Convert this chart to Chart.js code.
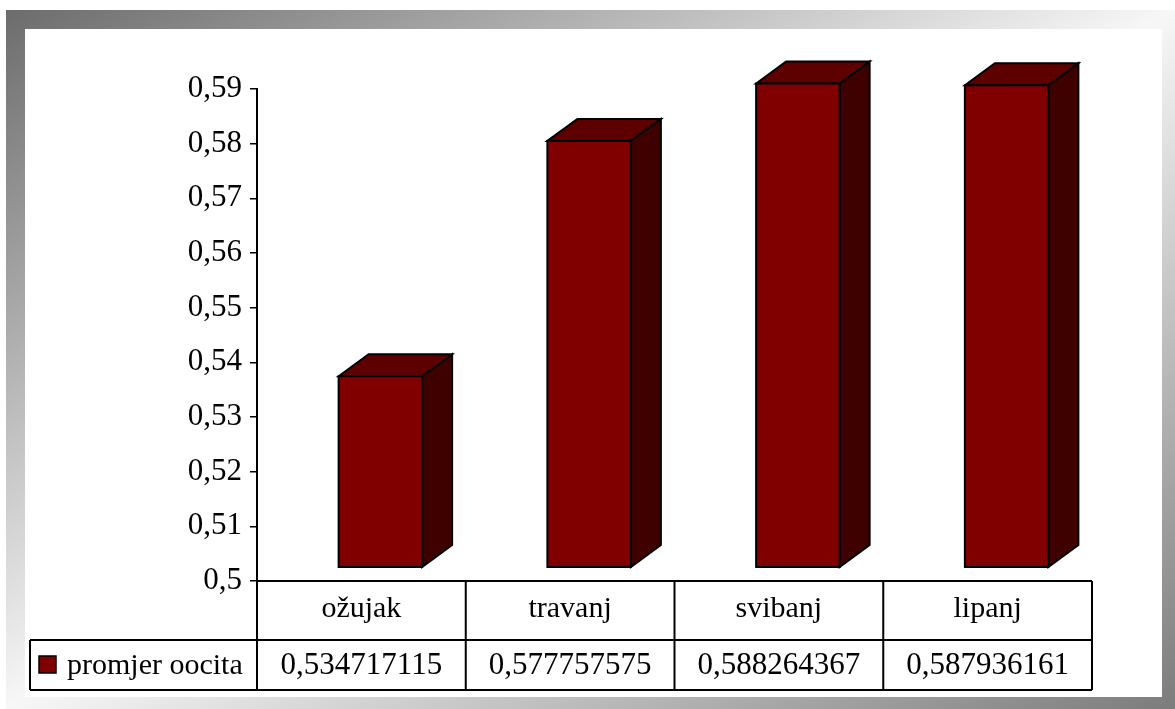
<!DOCTYPE html>
<html>
<head>
<meta charset="utf-8">
<script src="https://cdn.jsdelivr.net/npm/chart.js@4/dist/chart.umd.min.js"></script>
<style>
    body { margin: 0; width: 1175px; height: 709px; overflow: hidden; background: #fff; }
    #frame {
        position: absolute; left: 6px; top: 10px; width: 1169px; height: 699px;
        background: linear-gradient(to bottom right, #6c6c6c 0%, #f7f7f7 50%, #7c7c7c 100%);
    }
    #inner { position: absolute; left: 25px; top: 29px; width: 1137px; height: 668px; background: #fff; }
    #wrap { position: absolute; left: 0; top: 0; width: 1175px; height: 709px; }
</style>
</head>
<body>
<div id="frame"></div>
<div id="inner"></div>
<div id="wrap"><canvas id="chart" width="1175" height="709"></canvas></div>
<script>
const categories = ['ožujak', 'travanj', 'svibanj', 'lipanj'];
const seriesName = 'promjer oocita';
const values = [0.534717115, 0.577757575, 0.588264367, 0.587936161];
const valueLabels = ['0,534717115', '0,577757575', '0,588264367', '0,587936161'];
const yTicks = [0.5, 0.51, 0.52, 0.53, 0.54, 0.55, 0.56, 0.57, 0.58, 0.59];

const FONT = '"Liberation Serif", "Times New Roman", serif';
const FRONT = '#800000';
const TOP = '#5e0000';
const SIDE = '#3f0000';

// 3D bars + data table underneath
const bars3d = {
    id: 'bars3d',
    afterDraw(chart) {
        const ctx = chart.ctx;
        const meta = chart.getDatasetMeta(0);
        const xs = chart.scales.x;
        const ys = chart.scales.y;
        const area = chart.chartArea;
        const shiftX = 19, lift = 15, dx = 30, dy = -22;
        const basePx = ys.getPixelForValue(ys.min);

        ctx.save();
        ctx.lineWidth = 2;
        ctx.strokeStyle = '#000';
        ctx.lineJoin = 'miter';
        meta.data.forEach(bar => {
            const w = bar.width;
            const l = bar.x - w / 2 + shiftX, r = bar.x + w / 2 + shiftX;
            const t = bar.y - lift, b = basePx - 14;
            // side
            ctx.beginPath();
            ctx.moveTo(r, t); ctx.lineTo(r + dx, t + dy); ctx.lineTo(r + dx, b + dy); ctx.lineTo(r, b);
            ctx.closePath();
            ctx.fillStyle = SIDE; ctx.fill(); ctx.stroke();
            // top
            ctx.beginPath();
            ctx.moveTo(l, t); ctx.lineTo(l + dx, t + dy); ctx.lineTo(r + dx, t + dy); ctx.lineTo(r, t);
            ctx.closePath();
            ctx.fillStyle = TOP; ctx.fill(); ctx.stroke();
            // front
            ctx.fillStyle = FRONT;
            ctx.fillRect(l, t, w, b - t);
            ctx.strokeRect(l, t, w, b - t);
        });

        // data table
        const n = categories.length;
        const cw = xs.width / n;
        const y0 = area.bottom, y1 = y0 + 59, y2 = y1 + 50;
        const leftX = 30;
        ctx.lineWidth = 2;
        ctx.beginPath();
        ctx.moveTo(area.left, y0); ctx.lineTo(area.right, y0);
        ctx.moveTo(leftX, y1); ctx.lineTo(area.right, y1);
        ctx.moveTo(leftX, y2); ctx.lineTo(area.right, y2);
        ctx.moveTo(leftX, y1); ctx.lineTo(leftX, y2);
        for (let i = 0; i <= n; i++) {
            const x = xs.left + i * cw;
            ctx.moveTo(x, y0); ctx.lineTo(x, y2);
        }
        ctx.stroke();

        ctx.fillStyle = '#000';
        ctx.textAlign = 'center';
        ctx.textBaseline = 'middle';
        categories.forEach((c, i) => {
            const x = xs.getPixelForValue(i);
            ctx.font = '30px ' + FONT;
            ctx.fillText(c, x, (y0 + y1) / 2 - 1);
            ctx.font = '31px ' + FONT;
            ctx.fillText(valueLabels[i], x, (y1 + y2) / 2 + 1);
        });

        // legend key
        ctx.fillStyle = FRONT;
        ctx.lineWidth = 1.5;
        ctx.fillRect(39, 656, 17, 17);
        ctx.strokeRect(39, 656, 17, 17);
        ctx.fillStyle = '#000';
        ctx.textAlign = 'left';
        ctx.font = '30px ' + FONT;
        ctx.fillText(seriesName, 67, (y1 + y2) / 2 + 1);
        ctx.restore();
    }
};

const ctx = document.getElementById('chart').getContext('2d');
const chart = new Chart(ctx, {
    type: 'bar',
    data: {
        labels: categories,
        datasets: [{
            label: seriesName,
            data: values,
            backgroundColor: 'rgba(0,0,0,0)',
            borderWidth: 0,
            barPercentage: 0.8,
            categoryPercentage: 0.5
        }]
    },
    options: {
        responsive: false,
        animation: false,
        events: [],
        layout: { padding: { left: 0, right: 83, top: 89, bottom: 128 } },
        plugins: { legend: { display: false }, tooltip: { enabled: false } },
        scales: {
            x: { display: false, offset: true },
            y: {
                min: 0.5,
                max: 0.59,
                afterBuildTicks(scale) {
                    scale.ticks = yTicks.map(v => ({ value: v }));
                },
                afterFit(scale) { scale.width = 257; },
                border: { color: '#000', width: 2 },
                grid: { drawOnChartArea: false, color: '#000', lineWidth: 1.5, tickLength: 7 },
                ticks: {
                    color: '#000',
                    padding: 8,
                    font: { family: FONT, size: 31 },
                    callback: v => String(+v.toFixed(2)).replace('.', ',')
                }
            }
        }
    },
    plugins: [bars3d]
});
</script>
</body>
</html>
